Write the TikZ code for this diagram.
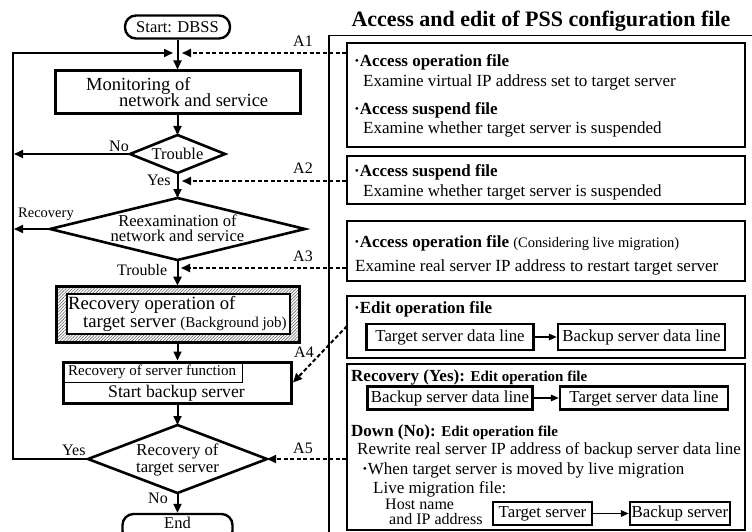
\documentclass[tikz,border=0pt]{standalone}
\usepackage{fontspec}
\setmainfont{Liberation Serif}
\usetikzlibrary{arrows.meta,patterns.meta}
\newcommand\fsz[1]{\fontsize{#1}{#1}\selectfont}
\newcommand\bul{\textbf{·}}
\begin{document}
\begin{tikzpicture}[x=1pt,y=-1pt,
  tip/.style={-{Triangle[length=9pt,width=8pt]}},
  flow/.style={line width=2pt,tip},
  link/.style={line width=2pt,dash pattern=on 4pt off 2.5pt,tip},
  heavy/.style={draw,line width=3pt,inner sep=0pt},
  dia/.style={draw,line width=2.6pt,line join=miter},
  panel/.style={draw,line width=1.4pt,inner sep=0pt},
  dline/.style={draw,line width=2.4pt,inner sep=0pt,font=\fsz{16.8}},
  txt/.style={inner sep=0pt,anchor=base west},
  ctxt/.style={inner sep=0pt,anchor=base},
  lbl/.style={txt,font=\fsz{16}},
  ptxt/.style={txt,font=\fsz{17}},
  small/.style={line width=1.5pt,-{Triangle[length=8pt,width=6.5pt]}}]
\useasboundingbox (0,0) rectangle (752,532);

% ---------- flowchart ----------
\node[draw,line width=2.4pt,rounded corners=11pt,minimum width=105pt,minimum height=23pt,inner sep=0pt,font=\fsz{16.5}] (start) at (177.5,27) {Start: DBSS};

\node[heavy,minimum width=245pt,minimum height=43pt] (mon) at (177.5,92.5) {};
\node[txt,font=\fsz{18.5}] (mon1) at (86,91) {Monitoring of};
\node[txt,font=\fsz{18.5}] (mon2) at (119,107) {network and service};

% decision: trouble
\coordinate (trW) at (130,154); \coordinate (trN) at (177.5,135);
\coordinate (trE) at (225,154);  \coordinate (trS) at (177.5,173);
\draw[dia] (trW) -- (trN) -- (trE) -- (trS) -- cycle;
\node[ctxt,font=\fsz{16.5}] (trt) at (177.5,159) {Trouble};

% decision: reexamination
\coordinate (reW) at (50,229); \coordinate (reN) at (177.5,198);
\coordinate (reE) at (305,229); \coordinate (reS) at (177.5,260);
\draw[dia] (reW) -- (reN) -- (reE) -- (reS) -- cycle;
\node[ctxt,font=\fsz{16.6}] (ret1) at (177.5,226.5) {Reexamination of};
\node[ctxt,font=\fsz{16.6}] (ret2) at (177.5,241.5) {network and service};

% recovery operation (background job)
\node[draw,line width=3pt,inner sep=0pt,minimum width=243pt,minimum height=56pt,
  pattern={Lines[angle=45,distance=2.2pt,line width=0.6pt]},pattern color=black!60] (rec) at (177.5,314) {};
\node[draw,fill=white,line width=1.2pt,inner sep=0pt,minimum width=223pt,minimum height=40pt] (recin) at (178.5,314) {};
\node[txt,font=\fsz{18.7}] (rect1) at (68,309) {Recovery operation of};
\node[txt,font=\fsz{18.7}] (rect2) at (83,327) {target server {\fsz{15}(Background job)}};

% recovery of server function
\node[heavy,minimum width=228pt,minimum height=41pt] (srv) at (177.5,382.5) {};
\node[draw,line width=1.3pt,inner sep=0pt,minimum width=179pt,minimum height=20pt] (srvlab) at (153,372.5) {};
\node[txt,font=\fsz{15}] (srvt1) at (68,375) {Recovery of server function};
\node[txt,font=\fsz{17.7}] (srvt2) at (108,397) {Start backup server};

% decision: recovery of target server
\coordinate (rtW) at (88,459); \coordinate (rtN) at (177.5,425);
\coordinate (rtE) at (267,459); \coordinate (rtS) at (177.5,493);
\draw[dia] (rtW) -- (rtN) -- (rtE) -- (rtS) -- cycle;
\node[ctxt,font=\fsz{16.7}] (rtt1) at (177.5,455) {Recovery of};
\node[ctxt,font=\fsz{16.7}] (rtt2) at (177.5,472) {target server};

% end terminal (runs past the lower edge)
\node[draw,line width=2.4pt,rounded corners=11pt,minimum width=110pt,minimum height=28pt,inner sep=0pt] (fin) at (177.5,528) {};
\node[ctxt,font=\fsz{16.5}] (fint) at (177.5,528.5) {End};

% main flow
\coordinate (loopTop) at (12.5,53);
\coordinate (joinL) at (173,53);
\coordinate (joinR) at (182,53);
\draw[flow] (start.south) -- (mon.north);
\draw[flow] (mon.south) -- (trN);
\draw[flow] (trS) -- (reN);
\draw[flow] (reS) -- (rec.north);
\draw[flow] (rec.south) -- (srv.north);
\draw[flow] (srv.south) -- (rtN);
\draw[flow] (rtS) -- (fin.north);
\draw[flow] (rtW) -| (loopTop) -- (joinL);
\draw[flow] (trW) -- ([xshift=1.5pt]trW -| loopTop);
\draw[flow] (reW) -- ([xshift=1.5pt]reW -| loopTop);

\node[lbl] (no1) at (109,151) {No};
\node[lbl] (yes1) at (147,185) {Yes};
\node[txt,font=\fsz{14.5}] (recl) at (18,217) {Recovery};
\node[lbl] (trl) at (117,275) {Trouble};
\node[lbl] (yes2) at (62,455) {Yes};
\node[lbl] (no2) at (148,503) {No};

% ---------- configuration file panel ----------
\node[ctxt,font=\fsz{22}\bfseries] (title) at (541,27) {Access and edit of PSS configuration file};
\draw[line width=1.5pt] (752,35.5) -- (329,35.5) -- (329,540);

\node[panel,minimum width=398pt,minimum height=104pt] (b1) at (546,95) {};
\node[ptxt] (b1a) at (354,67) {\bul\textbf{Access operation file}};
\node[ptxt] (b1b) at (363,87) {Examine virtual IP address set to target server};
\node[ptxt] (b1c) at (354,115) {\bul\textbf{Access suspend file}};
\node[ptxt] (b1d) at (363,134) {Examine whether target server is suspended};

\node[panel,minimum width=398pt,minimum height=48pt] (b2) at (546,180) {};
\node[ptxt] (b2a) at (354,176) {\bul\textbf{Access suspend file}};
\node[ptxt] (b2b) at (363,196) {Examine whether target server is suspended};

\node[panel,minimum width=398pt,minimum height=60pt] (b3) at (546,251) {};
\node[ptxt] (b3a) at (354,247) {\bul\textbf{Access operation file} {\fsz{14.5}(Considering live migration)}};
\node[ptxt] (b3b) at (355,271) {Examine real server IP address to restart target server};

\node[panel,minimum width=398pt,minimum height=62pt] (b4) at (546,327) {};
\node[ptxt] (b4a) at (354,313) {\bul\textbf{Edit operation file}};
\node[dline,minimum width=167pt,minimum height=26pt] (d1) at (450,337) {Target server data line};
\node[dline,minimum width=167pt,minimum height=26pt] (d2) at (641.5,337) {Backup server data line};
\draw[small] (d1) -- (d2);

\node[panel,minimum width=398pt,minimum height=166pt] (b5) at (546,447) {};
\node[ptxt] (b5a) at (351,381) {\textbf{Recovery (Yes):} {\fsz{15}\bfseries Edit operation file}};
\node[dline,minimum width=165pt,minimum height=23pt] (d3) at (450,398) {Backup server data line};
\node[dline,minimum width=168pt,minimum height=23pt] (d4) at (644,398) {Target server data line};
\draw[small] (d3) -- (d4);
\node[ptxt] (b5b) at (351,436) {\textbf{Down (No):} {\fsz{15}\bfseries Edit operation file}};
\node[ptxt] (b5c) at (357,454) {Rewrite real server IP address of backup server data line};
\node[ptxt] (b5d) at (362,474) {\bul When target server is moved by live migration};
\node[ptxt] (b5e) at (373,493) {Live migration file:};
\node[lbl] (b5f) at (385,509) {Host name};
\node[lbl] (b5g) at (389,524) {and IP address};
\node[dline,minimum width=99pt,minimum height=23pt] (d5) at (542.5,513.5) {Target server};
\node[dline,minimum width=100pt,minimum height=23pt] (d6) at (680,513.5) {Backup server};
\draw[small] (d5) -- (d6);

% ---------- links from the panel into the flow ----------
\coordinate (a2tip) at (182,181);
\coordinate (a3tip) at (181,268);
\coordinate (a4src) at (347,326);
\draw[link] (joinR -| b1.west) -- (joinR);
\draw[link] (a2tip -| b2.west) -- (a2tip);
\draw[link] (a3tip -| b3.west) -- (a3tip);
\draw[link] (a4src) -- (srv.east);
\draw[link] (rtE -| b5.west) -- (rtE);

\node[lbl] (la1) at (293,47) {A1};
\node[lbl] (la2) at (293,173) {A2};
\node[lbl] (la3) at (293,261) {A3};
\node[lbl] (la4) at (294,357) {A4};
\node[lbl] (la5) at (293,453) {A5};
\end{tikzpicture}
\end{document}
